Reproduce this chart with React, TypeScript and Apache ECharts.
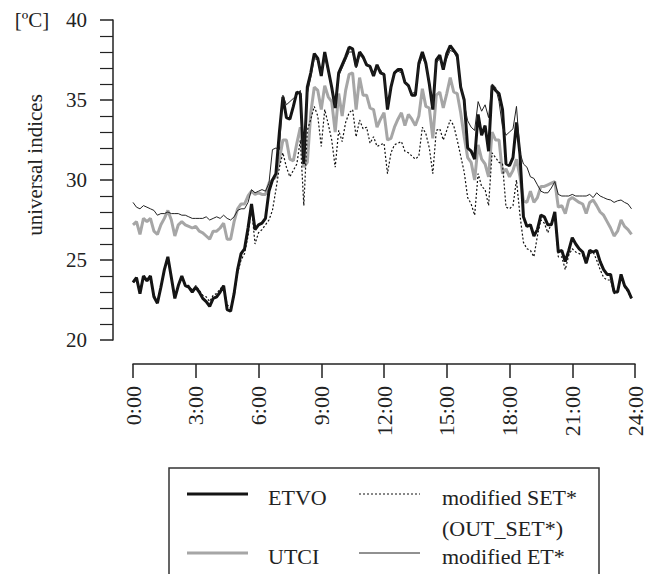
import React, { useEffect, useRef } from "react";
import * as echarts from "echarts";

// 10-minute time slots 0:00 … 24:00
const timeLabels: string[] = [];
for (let h = 0; h <= 24; h++) {
  for (let m = 0; m < 60; m += 10) {
    if (h === 24 && m > 0) break;
    timeLabels.push(`${h}:${m === 0 ? "00" : m}`);
  }
}

const etvo = [
  23.6, 23.9, 22.9, 24.0, 23.7, 24.0,
  22.7, 22.3, 23.3, 24.4, 25.2, 23.9,
  22.6, 23.4, 24.0, 23.4, 23.3, 23.0,
  23.3, 23.0, 22.6, 22.4, 22.1, 22.6,
  22.7, 23.0, 23.4, 21.9, 21.8, 22.9,
  24.4, 25.4, 25.7, 27.0, 28.5, 26.9,
  27.2, 27.3, 27.6, 29.3, 30.0, 30.4,
  33.0, 35.2, 33.9, 33.8, 34.6, 35.5,
  35.4, 31.0, 35.8, 36.7, 37.9, 37.6,
  36.5, 38.0, 36.9, 35.8, 34.5, 36.7,
  37.2, 37.7, 38.3, 38.2, 37.1, 38.0,
  37.7, 37.2, 37.1, 36.5, 37.2, 36.7,
  36.6, 34.4, 35.8, 36.7, 36.9, 36.9,
  36.1, 35.9, 35.3, 35.3, 37.3, 38.0,
  37.3, 36.0, 34.4, 37.5, 37.8, 36.9,
  37.9, 38.4, 38.1, 37.8, 35.8, 35.0,
  32.0, 31.8, 31.3, 34.1, 32.8, 33.4,
  31.8, 35.9, 35.6, 35.4, 34.4, 31.0,
  30.9, 31.4, 33.6, 31.6, 27.7, 27.1,
  27.2, 26.5, 26.9, 27.8, 27.7, 27.2,
  27.2, 28.0, 25.5, 25.6, 24.9, 25.6,
  26.4, 26.0, 25.7, 25.5, 24.8, 25.6,
  25.5, 25.6, 24.9, 24.4, 24.1, 24.1,
  23.0, 23.0, 24.1, 23.4, 23.1, 22.6,
];

const utci = [
  27.2, 27.4, 26.6, 27.6, 27.4, 27.6,
  26.8, 26.6, 27.2, 27.6, 28.1, 27.5,
  26.5, 27.2, 27.4, 27.2, 27.1, 27.0,
  27.1, 26.8, 26.7, 26.5, 26.3, 26.8,
  26.8, 27.0, 27.3, 26.3, 26.3, 27.4,
  28.2, 28.5, 28.5, 29.0, 29.3, 29.1,
  29.2, 29.1, 29.1, 29.8, 30.0, 30.2,
  31.3, 32.5, 32.5, 31.3, 31.2, 32.3,
  33.3, 30.8, 31.1, 34.2, 35.8, 35.6,
  34.4, 35.9, 35.2, 34.9, 33.0, 35.4,
  34.0, 35.6, 36.6, 36.7, 34.4, 36.4,
  35.3, 35.3, 34.5, 34.4, 33.3, 33.8,
  34.2, 32.5, 32.6, 33.3, 33.8, 34.2,
  33.4, 34.1, 33.8, 33.4, 34.0, 35.7,
  34.6, 34.5, 32.6, 35.3, 35.5, 34.5,
  35.4, 36.4, 35.5, 35.4, 34.2, 32.7,
  31.4, 31.1, 30.0, 32.2, 31.3, 31.0,
  30.2, 33.0, 32.5, 32.5, 30.4, 30.7,
  30.2, 30.6, 31.3, 30.2, 28.7, 28.6,
  29.3, 28.6, 28.9, 29.6, 29.6, 29.7,
  29.8, 29.9, 28.3, 28.4, 27.9, 28.75,
  28.9, 28.75, 28.6, 28.5, 27.9, 28.6,
  28.75, 28.4, 28.0, 27.8, 27.4, 27.0,
  26.5, 26.8, 27.5, 27.1, 26.9, 26.6,
];

const modSet = [
  23.6, 23.8, 23.0, 24.0, 23.7, 23.9,
  22.8, 22.4, 23.3, 24.3, 25.1, 23.9,
  22.7, 23.4, 23.9, 23.5, 23.4, 23.1,
  23.4, 23.1, 22.8, 22.7, 22.4, 22.8,
  22.9, 23.2, 23.4, 22.2, 22.0, 22.7,
  24.2, 25.0, 25.4, 26.5, 28.3, 26.0,
  26.7, 26.9, 27.2, 27.5, 28.1, 29.4,
  30.8, 31.7, 30.8, 30.2, 30.6, 31.0,
  32.5, 28.4, 33.1, 33.8, 34.6, 34.0,
  32.1, 34.4, 33.5, 32.5, 30.8, 33.1,
  32.4, 33.6, 34.2, 34.4, 32.7, 33.75,
  33.2, 33.3, 32.3, 32.7, 32.1, 32.2,
  32.3, 30.4, 31.7, 32.2, 32.3, 32.4,
  31.8, 31.7, 31.5, 31.3, 31.5, 33.3,
  32.9, 32.0, 30.4, 33.1, 33.2, 32.5,
  33.1, 33.75, 33.4, 32.5, 31.5, 30.5,
  28.9, 28.5, 27.8, 30.4, 29.6, 29.4,
  28.4, 31.7, 31.4, 31.1, 31.0, 28.3,
  28.2, 28.4, 30.0, 27.8, 26.1, 25.7,
  25.6, 25.2, 26.5, 27.5, 27.3, 26.7,
  27.3, 27.7, 25.2, 25.2, 24.4, 25.3,
  25.7, 25.5, 25.4, 25.3, 24.8, 25.4,
  25.5, 25.0, 24.4, 23.9, 23.75, 23.75,
  22.9, 23.0, 24.0, 23.3, 23.0, 22.6,
];

const modEt = [
  28.6, 28.3, 28.2, 28.4, 28.3, 28.2,
  28.1, 27.8, 27.9, 27.9, 28.0, 27.9,
  27.9, 27.9, 27.8, 27.8, 27.7, 27.6,
  27.6, 27.6, 27.6, 27.7, 27.5, 27.6,
  27.7, 27.6, 27.8, 27.6, 27.5, 27.7,
  28.1, 28.2, 28.2, 28.6, 29.4, 29.2,
  29.3, 29.4, 29.3, 29.8, 31.9, 32.0,
  31.9, 35.3, 34.7, 34.9, 35.1, 35.3,
  35.6, 31.5, 35.4, 36.4, 37.6, 37.5,
  36.6, 37.7, 36.8, 35.7, 34.6, 36.5,
  37.0, 37.5, 38.0, 38.0, 37.0, 37.8,
  37.6, 37.3, 37.0, 36.6, 37.0, 36.9,
  36.5, 34.6, 35.9, 36.6, 36.8, 36.7,
  36.2, 35.8, 35.4, 35.5, 37.1, 37.7,
  37.2, 36.1, 34.6, 37.3, 37.6, 37.0,
  37.6, 38.1, 38.0, 37.6, 36.0, 34.8,
  33.7, 33.3, 33.1, 34.9, 34.3, 34.7,
  33.9, 36.0, 35.8, 34.9, 33.3, 32.8,
  33.0, 33.2, 34.6, 31.7, 31.0, 30.8,
  30.2, 30.1, 29.7, 29.3, 29.2, 29.2,
  29.5, 29.9, 29.1, 29.0, 29.0, 29.0,
  29.1, 29.0, 29.0, 29.0, 29.0, 29.1,
  28.9, 29.2, 29.0, 28.9, 28.8, 28.75,
  28.6, 28.7, 28.75, 28.6, 28.5, 28.2,
];

const yTicks = [20, 25, 30, 35, 40];
const FONT = "Liberation Serif";
const AXIS = "#222";

export default function App() {
  const ref = useRef<HTMLDivElement>(null);
  useEffect(() => {
    document.body.style.margin = "0";
    const chart = echarts.init(ref.current!, null, { renderer: "svg" });
    const lineSeries = (name: string, data: number[], style: any, z: number) => ({
      name,
      type: "line",
      data,
      showSymbol: false,
      symbol: "none",
      lineStyle: style,
      z,
      silent: true,
    });
    const txt = (text: string, x: number, y: number, size = 22, extra: any = {}) => ({
      type: "text",
      x,
      y,
      ...extra,
      style: { text, fontSize: size, fontFamily: FONT, fill: "#222", align: "left", verticalAlign: "middle", ...(extra.style || {}) },
    });
    chart.setOption({
      animation: false,
      backgroundColor: "#fff",
      textStyle: { fontFamily: FONT },
      grid: { left: 133, right: 17, top: 20, bottom: 234, containLabel: false },
      xAxis: {
        type: "category",
        data: timeLabels,
        boundaryGap: false,
        offset: 24,
        axisLine: { show: true, lineStyle: { color: AXIS, width: 1.5 } },
        axisTick: {
          show: true,
          length: 14,
          interval: (i: number) => i % 18 === 0,
          lineStyle: { color: AXIS, width: 1.5 },
        },
        axisLabel: {
          interval: (i: number) => i % 18 === 0,
          rotate: 90,
          margin: 22,
          fontSize: 22,
          fontFamily: FONT,
          color: "#222",
        },
        splitLine: { show: false },
      },
      yAxis: {
        type: "value",
        min: yTicks[0],
        max: yTicks[yTicks.length - 1],
        interval: 5,
        offset: 20,
        axisLine: { show: true, lineStyle: { color: AXIS, width: 1.5 } },
        axisTick: { show: true, length: 13, lineStyle: { color: AXIS, width: 1.5 } },
        minorTick: { show: true, splitNumber: 5, length: 13, lineStyle: { color: AXIS, width: 1.2 } },
        axisLabel: { margin: 26, fontSize: 21, fontFamily: FONT, color: "#222" },
        splitLine: { show: false },
      },
      series: [
        lineSeries("UTCI", utci, { color: "#a6a6a6", width: 3 }, 2),
        lineSeries("modified SET* (OUT_SET*)", modSet, { color: "#111", width: 1.2, type: [2, 2] }, 3),
        lineSeries("ETVO", etvo, { color: "#141414", width: 3 }, 4),
        lineSeries("modified ET*", modEt, { color: "#222", width: 1 }, 5),
      ],
      graphic: {
        elements: [
          txt("[ºC]", 32, 20, 21, { style: { align: "center" } }),
          txt("universal indices", 35, 165, 21, { rotation: Math.PI / 2, style: { align: "center" } }),
          {
            type: "rect",
            shape: { x: 169, y: 468, width: 430, height: 200 },
            style: { fill: "none", stroke: "#333", lineWidth: 1.5 },
          },
          { type: "line", shape: { x1: 187, y1: 494, x2: 248, y2: 494 }, style: { stroke: "#141414", lineWidth: 3 } },
          txt("ETVO", 268, 497),
          { type: "line", shape: { x1: 359, y1: 494, x2: 420, y2: 494 }, style: { stroke: "#111", lineWidth: 1, lineDash: [2, 2] } },
          txt("modified SET*", 442, 497),
          txt("(OUT_SET*)", 442, 528),
          { type: "line", shape: { x1: 187, y1: 553, x2: 248, y2: 553 }, style: { stroke: "#a6a6a6", lineWidth: 3 } },
          txt("UTCI", 268, 556),
          { type: "line", shape: { x1: 359, y1: 553, x2: 420, y2: 553 }, style: { stroke: "#222", lineWidth: 1 } },
          txt("modified ET*", 442, 556),
        ],
      },
    });
    return () => chart.dispose();
  }, []);
  return (
    <div
      ref={ref}
      style={{ position: "fixed", left: 0, top: 0, width: 652, height: 574, background: "#fff" }}
    />
  );
}
